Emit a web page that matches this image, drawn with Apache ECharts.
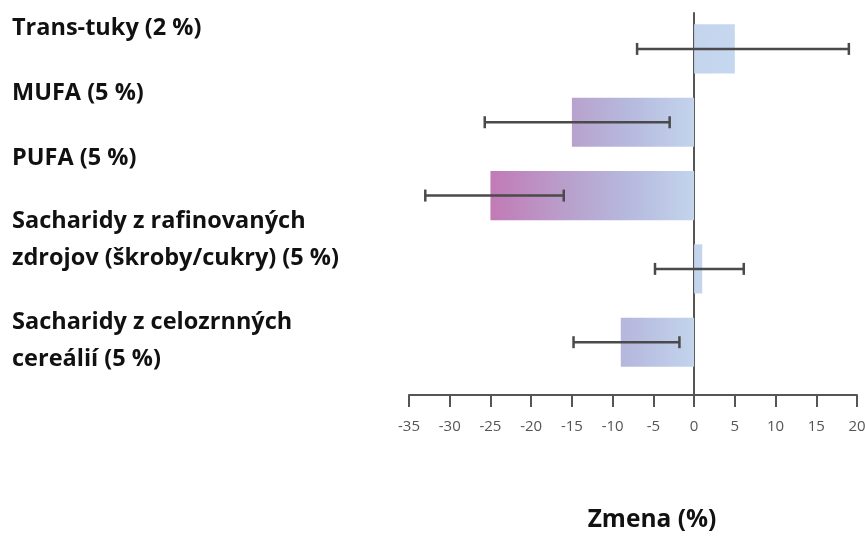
<!DOCTYPE html>
<html>
<head>
<meta charset="utf-8">
<script src="https://cdn.jsdelivr.net/npm/echarts@6/dist/echarts.min.js"></script>
<style>
  html, body { margin: 0; padding: 0; background: #fff; }
  #chart { width: 865px; height: 536px; }
</style>
</head>
<body>
<div id="chart"></div>
<script>
// Nutrient substitutions and the change they produce (%)
const categories = [
  'Trans-tuky (2 %)',
  'MUFA (5 %)',
  'PUFA (5 %)',
  'Sacharidy z rafinovaných\nzdrojov (škroby/cukry) (5 %)',
  'Sacharidy z celozrnných\ncereálií (5 %)'
];
const changeValues = [5, -15, -25, 1, -9];
const errorLow = [-7, -25.7, -33, -4.8, -14.8];
const errorHigh = [19, -3, -16, 6.1, -1.8];
const xTicks = [-35, -30, -25, -20, -15, -10, -5, 0, 5, 10, 15, 20];
const axisTitle = 'Zmena (%)';

const AXIS_COLOR = '#555555';
const TEXT_FONT = '"Open Sans", Lato, "Noto Sans", sans-serif';

// colour ramp across the value axis: magenta on the far left, pale blue at zero
const rampStops = [
  { value: -25, color: '#c27ab6' },
  { value: -15, color: '#b8a2cd' },
  { value: -8,  color: '#b6b9de' },
  { value: 0,   color: '#c3d4ec' },
  { value: 5,   color: '#c6d8f0' }
];

const barData = changeValues.map((v, i) => [v, i]);
const errData = errorLow.map((lo, i) => [lo, errorHigh[i], i]);

// category label placement in the left column (text block centres)
const labelCentres = [28, 93, 158, 240, 341];

const chart = echarts.init(document.getElementById('chart'));

chart.setOption({
  animation: false,
  backgroundColor: '#ffffff',
  grid: { left: 409, right: 8, top: 13, bottom: 141, outerBoundsMode: 'none', containLabel: false },
  xAxis: {
    type: 'value',
    min: xTicks[0],
    max: xTicks[xTicks.length - 1],
    interval: 5,
    position: 'bottom',
    axisLine: { onZero: false, lineStyle: { color: AXIS_COLOR, width: 2 } },
    axisTick: { show: true, length: 12, inside: false, lineStyle: { color: AXIS_COLOR, width: 2 } },
    axisLabel: {
      color: '#555555', fontSize: 15, margin: 24,
      fontFamily: '"Open Sans", "DejaVu Sans", sans-serif',
      formatter: v => String(v)
    },
    splitLine: { show: false },
    name: axisTitle,
    nameLocation: 'middle',
    nameGap: 113,
    nameTextStyle: {
      color: '#111', fontSize: 24.5, fontWeight: 'bold', fontFamily: TEXT_FONT,
      padding: [0, 0, 0, 38]
    }
  },
  yAxis: {
    type: 'value',
    inverse: true,
    min: -0.49,
    max: 4.72,
    axisLine: { show: true, onZero: true, lineStyle: { color: AXIS_COLOR, width: 2 } },
    axisTick: { show: false },
    axisLabel: { show: false },
    splitLine: { show: false }
  },
  graphic: categories.map((c, i) => ({
    type: 'text',
    left: 12,
    top: labelCentres[i] - (c.includes('\n') ? 37 : 18.5),
    style: {
      text: c,
      fill: '#111',
      font: 'bold 23.5px ' + TEXT_FONT,
      lineHeight: 37,
      textVerticalAlign: 'top'
    }
  })),
  series: [
    {
      type: 'custom',
      name: 'Zmena',
      encode: { x: 0, y: 1 },
      data: barData,
      z: 2,
      renderItem: (params, api) => {
        const v = api.value(0);
        const idx = api.value(1);
        const p0 = api.coord([0, idx]);
        const p1 = api.coord([v, idx]);
        const h = api.size([0, 0.67])[1];
        const xs = rampStops.map(s => api.coord([s.value, idx])[0]);
        const x0 = xs[0], x1 = xs[xs.length - 1];
        const stops = rampStops.map((s, k) => ({ offset: (xs[k] - x0) / (x1 - x0), color: s.color }));
        const left = Math.min(p0[0], p1[0]);
        return {
          type: 'rect',
          shape: { x: left, y: p0[1] - h / 2, width: Math.abs(p1[0] - p0[0]), height: h },
          style: { fill: new echarts.graphic.LinearGradient(x0, 0, x1, 0, stops, true) }
        };
      }
    },
    {
      type: 'custom',
      name: 'Interval',
      encode: { x: [0, 1], y: 2 },
      data: errData,
      z: 5,
      renderItem: (params, api) => {
        const idx = api.value(2);
        const a = api.coord([api.value(0), idx]);
        const b = api.coord([api.value(1), idx]);
        const cap = 6;
        const st = { stroke: '#4a4a4a', lineWidth: 2.5 };
        return {
          type: 'group',
          children: [
            { type: 'line', shape: { x1: a[0], y1: a[1], x2: b[0], y2: b[1] }, style: st },
            { type: 'line', shape: { x1: a[0], y1: a[1] - cap, x2: a[0], y2: a[1] + cap }, style: st },
            { type: 'line', shape: { x1: b[0], y1: b[1] - cap, x2: b[0], y2: b[1] + cap }, style: st }
          ]
        };
      }
    }
  ]
});
</script>
</body>
</html>
